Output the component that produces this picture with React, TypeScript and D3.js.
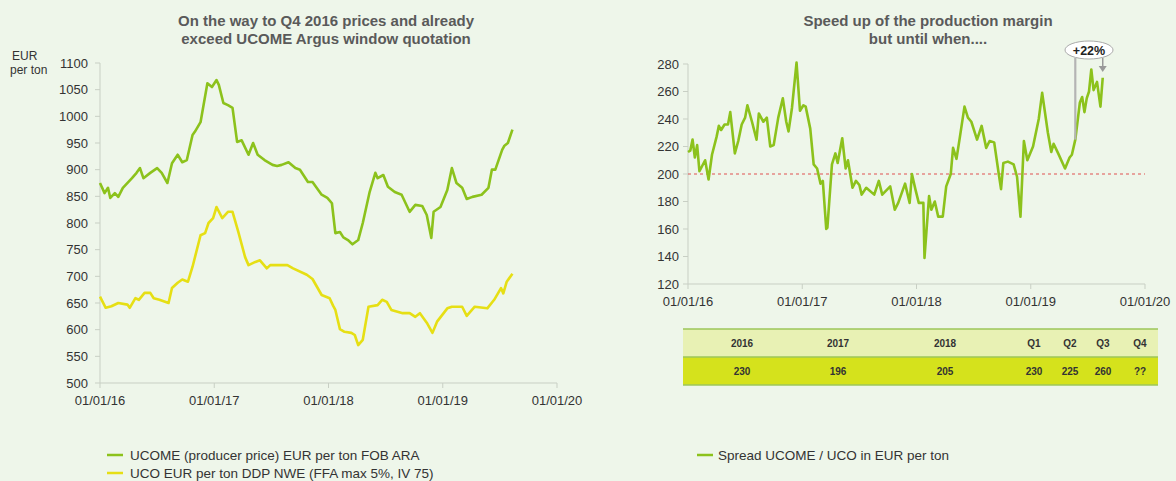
import React, { useEffect, useRef } from 'react';
import * as d3 from 'd3';

// [decimal year, EUR per ton]
const ucome: [number, number][] = [
  [2016.0, 875], [2016.04, 856], [2016.07, 866], [2016.09, 847], [2016.13, 856], [2016.16, 849],
  [2016.2, 866], [2016.28, 884], [2016.32, 894], [2016.35, 903], [2016.38, 884], [2016.44, 894],
  [2016.5, 903], [2016.54, 894], [2016.59, 875], [2016.63, 912], [2016.68, 928], [2016.72, 914],
  [2016.76, 918], [2016.81, 965], [2016.83, 971], [2016.88, 989], [2016.94, 1062], [2016.98, 1055],
  [2017.02, 1068], [2017.04, 1059], [2017.08, 1025], [2017.12, 1021], [2017.16, 1016], [2017.2, 952],
  [2017.24, 955], [2017.3, 928], [2017.34, 950], [2017.38, 928], [2017.44, 918], [2017.51, 909],
  [2017.55, 907], [2017.59, 909], [2017.65, 914], [2017.71, 903], [2017.75, 900], [2017.82, 877],
  [2017.86, 877], [2017.94, 853], [2017.99, 847], [2018.03, 837], [2018.06, 781], [2018.1, 783],
  [2018.13, 773], [2018.17, 768], [2018.21, 760], [2018.26, 768], [2018.3, 800], [2018.36, 858],
  [2018.41, 894], [2018.43, 884], [2018.48, 890], [2018.52, 868], [2018.58, 858], [2018.64, 853],
  [2018.71, 821], [2018.76, 834], [2018.82, 832], [2018.86, 815], [2018.9, 772], [2018.92, 821],
  [2018.98, 830], [2019.04, 862], [2019.08, 903], [2019.12, 875], [2019.17, 866], [2019.21, 845],
  [2019.26, 849], [2019.34, 853], [2019.4, 866], [2019.43, 900], [2019.46, 900], [2019.52, 937],
  [2019.54, 945], [2019.57, 950], [2019.61, 975],
];

const uco: [number, number][] = [
  [2016.0, 662], [2016.05, 641], [2016.1, 644], [2016.16, 650], [2016.24, 647], [2016.26, 641],
  [2016.31, 659], [2016.34, 656], [2016.39, 669], [2016.44, 669], [2016.47, 659], [2016.52, 656],
  [2016.6, 650], [2016.63, 678], [2016.68, 688], [2016.72, 694], [2016.77, 690], [2016.81, 718],
  [2016.88, 777], [2016.92, 781], [2016.95, 800], [2016.99, 809], [2017.02, 830], [2017.07, 809],
  [2017.12, 821], [2017.16, 821], [2017.21, 784], [2017.27, 736], [2017.3, 721], [2017.36, 727],
  [2017.4, 730], [2017.46, 715], [2017.49, 721], [2017.64, 721], [2017.69, 715], [2017.81, 703],
  [2017.86, 695], [2017.9, 680], [2017.94, 665], [2018.01, 659], [2018.04, 645], [2018.06, 637],
  [2018.1, 601], [2018.14, 596], [2018.2, 594], [2018.23, 590], [2018.26, 571], [2018.3, 581],
  [2018.35, 643], [2018.43, 646], [2018.47, 656], [2018.51, 652], [2018.55, 637], [2018.65, 631],
  [2018.71, 631], [2018.76, 624], [2018.8, 631], [2018.86, 613], [2018.91, 594], [2018.95, 615],
  [2019.04, 640], [2019.08, 643], [2019.17, 643], [2019.21, 626], [2019.28, 643], [2019.39, 640],
  [2019.45, 656], [2019.51, 678], [2019.53, 668], [2019.56, 690], [2019.61, 705],
];

// [decimal year, EUR per ton]
const spread: [number, number][] = [
  [2016.0, 216], [2016.02, 217], [2016.04, 225], [2016.06, 212], [2016.08, 221], [2016.1, 202],
  [2016.15, 210], [2016.18, 196], [2016.21, 214], [2016.25, 227], [2016.27, 235], [2016.29, 232],
  [2016.32, 236], [2016.35, 236], [2016.37, 245], [2016.41, 215], [2016.44, 224], [2016.47, 236],
  [2016.5, 241], [2016.52, 250], [2016.56, 238], [2016.6, 225], [2016.62, 244], [2016.66, 238],
  [2016.69, 241], [2016.72, 220], [2016.75, 221], [2016.79, 241], [2016.83, 255], [2016.86, 238],
  [2016.88, 231], [2016.91, 248], [2016.95, 281], [2016.98, 246], [2017.01, 250], [2017.03, 249],
  [2017.07, 233], [2017.1, 207], [2017.13, 204], [2017.16, 193], [2017.18, 195], [2017.21, 160],
  [2017.22, 161], [2017.26, 207], [2017.29, 215], [2017.31, 208], [2017.35, 226], [2017.38, 204],
  [2017.4, 210], [2017.44, 190], [2017.47, 195], [2017.5, 192], [2017.52, 185], [2017.56, 190],
  [2017.63, 185], [2017.67, 195], [2017.7, 185], [2017.77, 191], [2017.81, 174], [2017.84, 179],
  [2017.9, 193], [2017.94, 179], [2017.96, 200], [2017.99, 189], [2018.02, 179], [2018.06, 179],
  [2018.07, 139], [2018.11, 184], [2018.13, 174], [2018.16, 180], [2018.19, 169], [2018.23, 169],
  [2018.26, 191], [2018.3, 200], [2018.32, 219], [2018.35, 211], [2018.38, 227], [2018.42, 249],
  [2018.45, 241], [2018.48, 238], [2018.53, 225], [2018.57, 235], [2018.61, 219], [2018.64, 224],
  [2018.68, 223], [2018.72, 200], [2018.74, 189], [2018.76, 208], [2018.8, 209], [2018.85, 207],
  [2018.88, 198], [2018.91, 169], [2018.94, 224], [2018.97, 210], [2019.02, 220], [2019.07, 240],
  [2019.1, 259], [2019.15, 230], [2019.18, 216], [2019.2, 222], [2019.24, 215], [2019.3, 204],
  [2019.34, 212], [2019.36, 214], [2019.39, 225], [2019.43, 252], [2019.45, 256], [2019.47, 245],
  [2019.49, 255], [2019.51, 260], [2019.53, 276], [2019.55, 261], [2019.58, 267], [2019.61, 249],
  [2019.63, 270],
];

const yearTicks = [2016, 2017, 2018, 2019, 2020];
const leftYTicks = [500, 550, 600, 650, 700, 750, 800, 850, 900, 950, 1000, 1050, 1100];
const rightYTicks = [120, 140, 160, 180, 200, 220, 240, 260, 280];
const threshold = 200;
const annotFrom = 2019.39;
const annotTo = 2019.63;
const annotText = '+22%';

const tableHeaders = ['2016', '2017', '2018', 'Q1', 'Q2', 'Q3', 'Q4'];
const tableValues = ['230', '196', '205', '230', '225', '260', '??'];

const leftTitle = ['On the way to Q4 2016 prices and already', 'exceed UCOME Argus window quotation'];
const rightTitle = ['Speed up of the production margin', 'but until when....'];
const leftLegend = ['UCOME (producer price) EUR per ton FOB ARA', 'UCO EUR per ton DDP NWE (FFA max 5%, IV 75)'];
const rightLegend = 'Spread UCOME / UCO in EUR per ton';

const GREEN = '#8cc21c';
const YELLOW = '#e6df14';
const FONT = '"Liberation Sans", Arial, sans-serif';

const App: React.FC = () => {
  const ref = useRef<SVGSVGElement | null>(null);

  useEffect(() => {
    const svg = d3.select(ref.current);
    svg.selectAll('*').remove();

    svg.append('rect').attr('width', 1176).attr('height', 481).attr('fill', '#eef6ea');

    const fmtYear = (d: number) => '01/01/' + String(d).slice(2);

    const drawAxes = (
      x: d3.ScaleLinear<number, number>,
      y: d3.ScaleLinear<number, number>,
      yTicks: number[],
      labelGap: number
    ) => {
      const [y0] = y.range();
      const [x0, x1] = x.range();
      const g = svg.append('g');
      g.append('line').attr('x1', x0).attr('x2', x0).attr('y1', y.range()[1]).attr('y2', y0)
        .attr('stroke', '#c8cfc4').attr('stroke-width', 1);
      g.append('line').attr('x1', x0).attr('x2', x1).attr('y1', y0).attr('y2', y0)
        .attr('stroke', '#c8cfc4').attr('stroke-width', 1);
      yTicks.forEach(t => {
        g.append('line').attr('x1', x0 - 5).attr('x2', x0).attr('y1', y(t)).attr('y2', y(t))
          .attr('stroke', '#c8cfc4');
        g.append('text').attr('x', x0 - labelGap).attr('y', y(t) + 4.5).attr('text-anchor', 'end')
          .attr('font-size', 13).attr('fill', '#333').attr('font-family', FONT).text(t);
      });
      yearTicks.forEach(t => {
        g.append('line').attr('x1', x(t)).attr('x2', x(t)).attr('y1', y0).attr('y2', y0 + 5)
          .attr('stroke', '#c8cfc4');
        g.append('text').attr('x', x(t)).attr('y', y0 + 22).attr('text-anchor', 'middle')
          .attr('font-size', 13).attr('fill', '#333').attr('font-family', FONT).text(fmtYear(t));
      });
    };

    const drawTitle = (lines: string[], cx: number) => {
      lines.forEach((l, i) => {
        svg.append('text').attr('x', cx).attr('y', 26 + i * 18).attr('text-anchor', 'middle')
          .attr('font-size', 15).attr('font-weight', 'bold').attr('fill', '#5a5a5a')
          .attr('font-family', FONT).text(l);
      });
    };

    // ---- left chart
    const xL = d3.scaleLinear().domain([2016, 2020]).range([100, 557]);
    const yL = d3.scaleLinear().domain([500, 1100]).range([383, 63]);
    drawTitle(leftTitle, 326);
    svg.append('text').attr('x', 12).attr('y', 60).attr('font-size', 12).attr('fill', '#333')
      .attr('font-family', FONT).text('EUR');
    svg.append('text').attr('x', 10).attr('y', 74).attr('font-size', 12).attr('fill', '#333')
      .attr('font-family', FONT).text('per ton');
    drawAxes(xL, yL, leftYTicks, 12);

    const lineL = d3.line<[number, number]>().x(d => xL(d[0])).y(d => yL(d[1]));
    svg.append('path').datum(ucome).attr('d', lineL).attr('fill', 'none')
      .attr('stroke', GREEN).attr('stroke-width', 2.6).attr('stroke-linejoin', 'round');
    svg.append('path').datum(uco).attr('d', lineL).attr('fill', 'none')
      .attr('stroke', YELLOW).attr('stroke-width', 2.6).attr('stroke-linejoin', 'round');

    [GREEN, YELLOW].forEach((c, i) => {
      const ly = 455 + i * 18;
      svg.append('line').attr('x1', 107).attr('x2', 123).attr('y1', ly).attr('y2', ly)
        .attr('stroke', c).attr('stroke-width', 2.5);
      svg.append('text').attr('x', 130).attr('y', ly + 4.5).attr('font-size', 13.5).attr('fill', '#333')
        .attr('font-family', FONT).text(leftLegend[i]);
    });

    // ---- right chart
    const xR = d3.scaleLinear().domain([2016, 2020]).range([688, 1145]);
    const yR = d3.scaleLinear().domain([120, 280]).range([284, 64]);
    drawTitle(rightTitle, 928);
    drawAxes(xR, yR, rightYTicks, 9);

    svg.append('line').attr('x1', xR(2016)).attr('x2', xR(2020))
      .attr('y1', yR(threshold)).attr('y2', yR(threshold))
      .attr('stroke', '#e05050').attr('stroke-width', 1).attr('stroke-dasharray', '3,3');

    const lineR = d3.line<[number, number]>().x(d => xR(d[0])).y(d => yR(d[1]));
    svg.append('path').datum(spread).attr('d', lineR).attr('fill', 'none')
      .attr('stroke', GREEN).attr('stroke-width', 2.6).attr('stroke-linejoin', 'round');

    // +22% annotation
    const fromPt = spread.find(d => d[0] >= annotFrom) as [number, number];
    const toPt = spread[spread.length - 1];
    const ex = (xR(annotFrom) + xR(annotTo)) / 2;
    const ey = 50;
    svg.append('line').attr('x1', xR(fromPt[0])).attr('x2', xR(fromPt[0]))
      .attr('y1', yR(fromPt[1])).attr('y2', ey + 8)
      .attr('stroke', '#b4b4b4').attr('stroke-width', 2.2);
    svg.append('line').attr('x1', xR(toPt[0])).attr('x2', xR(toPt[0]))
      .attr('y1', ey + 8).attr('y2', ey + 17)
      .attr('stroke', '#999').attr('stroke-width', 1.5);
    svg.append('path')
      .attr('d', `M${xR(toPt[0]) - 4},${ey + 16} L${xR(toPt[0]) + 4},${ey + 16} L${xR(toPt[0])},${ey + 22} Z`)
      .attr('fill', '#999');
    svg.append('ellipse').attr('cx', ex).attr('cy', ey).attr('rx', 24).attr('ry', 9)
      .attr('fill', '#fff').attr('stroke', '#aaa').attr('stroke-width', 1);
    svg.append('text').attr('x', ex).attr('y', ey + 4.5).attr('text-anchor', 'middle')
      .attr('font-size', 12.5).attr('font-weight', 'bold').attr('fill', '#222')
      .attr('font-family', FONT).text(annotText);

    // table
    const colX = [742, 838, 945, 1034, 1070, 1103, 1140];
    const tx0 = 683, tx1 = 1158;
    svg.append('rect').attr('x', tx0).attr('y', 329).attr('width', tx1 - tx0).attr('height', 28)
      .attr('fill', '#e8f1b4');
    svg.append('rect').attr('x', tx0).attr('y', 357).attr('width', tx1 - tx0).attr('height', 28)
      .attr('fill', '#d5e21c');
    [329, 357, 385].forEach(yy => {
      svg.append('line').attr('x1', tx0).attr('x2', tx1).attr('y1', yy).attr('y2', yy)
        .attr('stroke', '#9cc65a').attr('stroke-width', 1.5);
    });
    tableHeaders.forEach((h, i) => {
      svg.append('text').attr('x', colX[i]).attr('y', 347).attr('text-anchor', 'middle')
        .attr('font-size', 10).attr('font-weight', 'bold').attr('fill', '#333')
        .attr('font-family', FONT).text(h);
      svg.append('text').attr('x', colX[i]).attr('y', 375).attr('text-anchor', 'middle')
        .attr('font-size', 10).attr('font-weight', 'bold').attr('fill', '#333')
        .attr('font-family', FONT).text(tableValues[i]);
    });

    svg.append('line').attr('x1', 697).attr('x2', 713).attr('y1', 455).attr('y2', 455)
      .attr('stroke', GREEN).attr('stroke-width', 2.5);
    svg.append('text').attr('x', 718).attr('y', 459.5).attr('font-size', 13.5).attr('fill', '#333')
      .attr('font-family', FONT).text(rightLegend);
  }, []);

  return (
    <div style={{ position: 'fixed', left: 0, top: 0 }}>
      <svg ref={ref} width={1176} height={481} style={{ display: 'block' }} />
    </div>
  );
};

export default App;
